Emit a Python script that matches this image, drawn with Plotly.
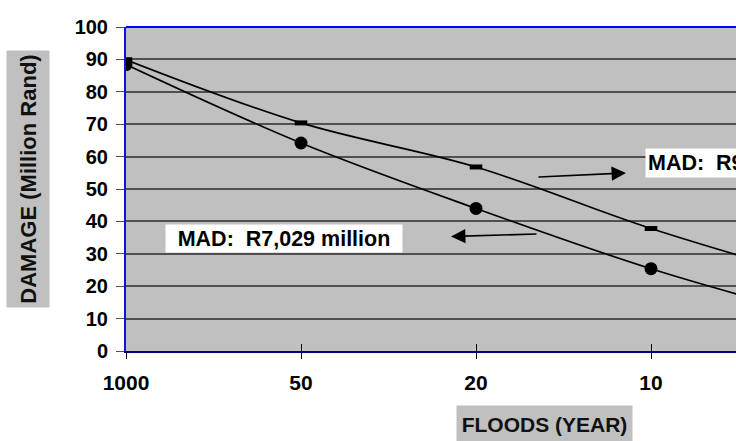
import plotly.graph_objects as go

# ---- data ----
return_periods = ["1000", "50", "20", "10", "5"]
damage_upper = [89.9, 70.4, 56.8, 37.8, 21.7]   # square markers
damage_lower = [88.4, 64.2, 44.0, 25.4, 10.0]   # circle markers
y_ticks = [0, 10, 20, 30, 40, 50, 60, 70, 80, 90, 100]
label_lower = "MAD:\u00a0\u00a0R7,029 million"
label_upper = "MAD:\u00a0\u00a0R9"
x_title = "FLOODS (YEAR)"
y_title = "DAMAGE (Million Rand)"

W, H = 736, 441
L, R, T, B = 126, 0, 27, 90
PW, PH = W - L - R, H - T - B


def px(x):
    return (x - L) / PW


def py(y):
    return (H - B - y) / PH


xpos = list(range(len(return_periods)))
FONT = "Liberation Sans, Arial, sans-serif"

fig = go.Figure()
fig.add_trace(go.Scatter(
    x=xpos, y=damage_upper, mode="lines+markers",
    line=dict(color="black", width=1.7, shape="spline", smoothing=1.0),
    marker=dict(symbol="line-ew", size=9, line=dict(color="black", width=5)),
    showlegend=False, hoverinfo="skip"))
fig.add_trace(go.Scatter(
    x=xpos, y=damage_lower, mode="lines+markers",
    line=dict(color="black", width=1.7, shape="spline", smoothing=1.0),
    marker=dict(symbol="circle", size=13, color="black"),
    showlegend=False, hoverinfo="skip"))
# invisible trace on overlay axis for the inside half of the crossing ticks
fig.add_trace(go.Scatter(x=[xpos[0]], y=[0], xaxis="x2", mode="markers",
                         marker=dict(opacity=0), showlegend=False, hoverinfo="skip"))

x_range = [0, (W - L) / 175.0]

fig.update_layout(
    width=W, height=H,
    margin=dict(l=L, r=R, t=T, b=B, pad=0),
    paper_bgcolor="white", plot_bgcolor="#c0c0c0",
    font=dict(family=FONT, color="black"),
    xaxis=dict(
        range=x_range, tickmode="array", tickvals=xpos, ticktext=return_periods,
        showgrid=False, zeroline=False, showline=True, linecolor="#000080", linewidth=2,
        ticks="outside", ticklen=6, tickwidth=1, tickcolor="black",
        tickfont=dict(size=21, weight="bold", family=FONT), ticklabelstandoff=6,
    ),
    xaxis2=dict(
        overlaying="x", matches="x", anchor="y", range=x_range, tickmode="array",
        tickvals=xpos, showticklabels=False, showgrid=False, zeroline=False,
        showline=False, ticks="inside", ticklen=7, tickwidth=1, tickcolor="black",
        side="bottom",
    ),
    yaxis=dict(
        range=[0, 100], tickmode="array", tickvals=y_ticks,
        showgrid=True, gridcolor="#505050", gridwidth=1.6, zeroline=False,
        showline=True, linecolor="#1010e0", linewidth=2,
        ticks="outside", ticklen=8, tickcolor="#555555",
        tickfont=dict(size=20, weight="bold", family=FONT), ticklabelstandoff=4,
    ),
    shapes=[dict(type="line", xref="paper", yref="paper", x0=0, x1=1, y0=1, y1=1,
                 line=dict(color="#0000ff", width=2))],
    annotations=[
        dict(text=y_title, textangle=-90, xref="paper", yref="paper",
             x=px(28), y=py(179), xanchor="center", yanchor="middle",
             showarrow=False, bgcolor="#c0c0c0",
             width=252, height=38, borderpad=2,
             font=dict(size=22, weight="bold", family=FONT, color="#111")),
        dict(text=x_title, xref="paper", yref="paper",
             x=px(544.5), y=py(424), xanchor="center", yanchor="middle",
             showarrow=False, bgcolor="#c0c0c0",
             width=171, height=32, borderpad=2,
             font=dict(size=21, weight="bold", family=FONT, color="#111")),
        dict(text=label_lower, xref="paper", yref="paper",
             x=px(284), y=py(238.5), xanchor="center", yanchor="middle",
             showarrow=False, bgcolor="white",
             width=232, height=23, borderpad=2,
             font=dict(size=21.5, weight="bold", family=FONT)),
        dict(text=label_upper, xref="paper", yref="paper",
             x=px(645), y=py(163), xanchor="left", yanchor="middle",
             showarrow=False, bgcolor="white",
             width=232, height=24, borderpad=2, align="left",
             font=dict(size=21.5, weight="bold", family=FONT)),
        dict(text="", xref="paper", yref="paper", x=px(451), y=py(236.5),
             axref="pixel", ayref="pixel", ax=538 - 451, ay=234 - 236.5,
             showarrow=True, arrowhead=2, arrowsize=1.8, arrowwidth=1.6, arrowcolor="black"),
        dict(text="", xref="paper", yref="paper", x=px(626), y=py(173),
             axref="pixel", ayref="pixel", ax=537 - 626, ay=177 - 173,
             showarrow=True, arrowhead=2, arrowsize=1.8, arrowwidth=1.6, arrowcolor="black"),
    ],
)

fig.write_html(
    "out.html",
    config={"displayModeBar": False},
    post_script="document.body.style.margin='0';document.body.style.overflow='hidden';",
)
